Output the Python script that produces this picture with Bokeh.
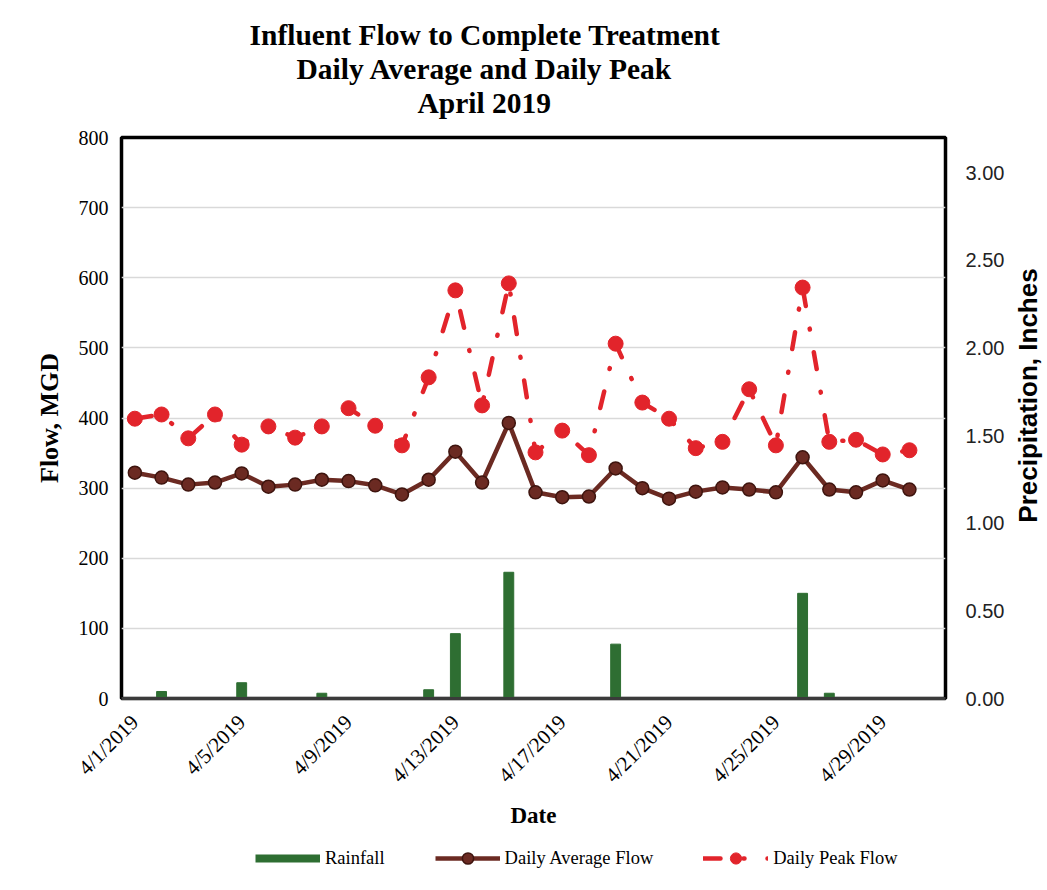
from math import pi
from bokeh.plotting import figure
from bokeh.layouts import column, row
from bokeh.models import (Range1d, LinearAxis, FixedTicker, Legend, LegendItem,
                          Title, Label, NumeralTickFormatter, ColumnDataSource)
from bokeh.embed import file_html
from bokeh.resources import INLINE

# ---------------- data ----------------
dates = ["4/1/2019", "4/2/2019", "4/3/2019", "4/4/2019", "4/5/2019", "4/6/2019",
         "4/7/2019", "4/8/2019", "4/9/2019", "4/10/2019", "4/11/2019", "4/12/2019",
         "4/13/2019", "4/14/2019", "4/15/2019", "4/16/2019", "4/17/2019", "4/18/2019",
         "4/19/2019", "4/20/2019", "4/21/2019", "4/22/2019", "4/23/2019", "4/24/2019",
         "4/25/2019", "4/26/2019", "4/27/2019", "4/28/2019", "4/29/2019", "4/30/2019"]
day_index = [1, 2, 3, 4, 5, 6, 7, 8, 9, 10, 11, 12, 13, 14, 15,
             16, 17, 18, 19, 20, 21, 22, 23, 24, 25, 26, 27, 28, 29, 30]
avg_flow = [322, 315, 305, 308, 321, 302, 305, 312, 310, 304, 291, 312, 352, 308, 393,
            294, 287, 288, 328, 300, 285, 295, 301, 298, 294, 344, 298, 294, 311, 298]
peak_flow = [399, 405, 371, 405, 362, 388, 372, 388, 414, 389, 361, 458, 582, 418, 592,
             351, 382, 347, 506, 422, 399, 357, 366, 441, 361, 586, 366, 369, 348, 354]
rainfall = [0.00, 0.04, 0.00, 0.00, 0.09, 0.00, 0.00, 0.03, 0.00, 0.00, 0.00, 0.05, 0.37, 0.00, 0.72,
            0.00, 0.00, 0.00, 0.31, 0.00, 0.00, 0.00, 0.00, 0.00, 0.00, 0.60, 0.03, 0.00, 0.00, 0.00]
x_tick_days = [1, 5, 9, 13, 17, 21, 25, 29]
flow_ticks = [0, 100, 200, 300, 400, 500, 600, 700, 800]
rain_ticks = [0.0, 0.5, 1.0, 1.5, 2.0, 2.5, 3.0]
title_lines = ["Influent Flow to Complete Treatment", "Daily Average and Daily Peak", "April 2019"]
# left offsets (px from plot-area left edge) that centre each title line on the chart
title_offsets = [128, 175, 296]
series_names = ["Rainfall", "Daily Average Flow", "Daily Peak Flow"]
right_title = "Precipitation, Inches"

GREEN = "#2E6E32"
BROWN = "#6B2A22"
BROWN_EDGE = "#3E140E"
RED = "#E2242B"
SERIF = "Liberation Serif"
SANS = "Liberation Sans"
PEAK_DASH = "17 23 1 23"

src = ColumnDataSource(dict(day=day_index, date=dates, avg=avg_flow,
                            peak=peak_flow, rain=rainfall))

# ---------------- main chart ----------------
p = figure(frame_width=824, frame_height=561,
           min_border_left=121, min_border_right=63, min_border_top=137, min_border_bottom=144,
           x_range=Range1d(0.5, 31.35), y_range=Range1d(0, 800),
           output_backend="svg", toolbar_location=None)
p.extra_y_ranges = {"rain": Range1d(0, 3.2)}

p.background_fill_color = "white"
p.border_fill_color = "white"
p.outline_line_color = "black"
p.outline_line_width = 3.5

p.xgrid.visible = False
p.ygrid.ticker = FixedTicker(ticks=flow_ticks)
p.ygrid.grid_line_color = "#D9D9D9"
p.ygrid.grid_line_width = 1.5

p.vbar(x="day", top="rain", bottom=0, width=0.37, y_range_name="rain",
       fill_color=GREEN, line_color=GREEN, source=src)
p.line("day", "avg", line_color=BROWN, line_width=4.5, source=src)
p.scatter("day", "avg", size=13, fill_color=BROWN, line_color=BROWN_EDGE,
          line_width=1.5, source=src)
p.line("day", "peak", line_color=RED, line_width=4.5, line_dash=PEAK_DASH,
       line_cap="round", source=src)
p.scatter("day", "peak", size=15, fill_color=RED, line_color=RED, source=src)

# x axis
xax = p.xaxis[0]
xax.ticker = FixedTicker(ticks=x_tick_days)
xax.major_label_overrides = {d: dates[d - 1] for d in x_tick_days}
xax.major_label_orientation = pi / 4
xax.major_label_text_font = SERIF
xax.major_label_text_font_size = "21px"
xax.major_label_text_color = "black"
xax.major_label_standoff = 20
xax.major_tick_out = 0
xax.major_tick_in = 0
xax.major_tick_line_color = None
xax.minor_tick_line_color = None
xax.axis_line_color = "#3A3A3A"
xax.axis_line_width = 3
xax.axis_label = "Date"
xax.axis_label_text_font = SERIF
xax.axis_label_text_font_style = "bold"
xax.axis_label_text_font_size = "23px"
xax.axis_label_text_color = "black"
xax.axis_label_standoff = 4

# left axis
yax = p.yaxis[0]
yax.ticker = FixedTicker(ticks=flow_ticks)
yax.major_label_text_font = SERIF
yax.major_label_text_font_size = "20px"
yax.major_label_text_color = "black"
yax.major_label_standoff = 13
yax.major_tick_out = 0
yax.major_tick_in = 0
yax.major_tick_line_color = None
yax.minor_tick_line_color = None
yax.axis_line_color = None
yax.axis_label = "Flow, MGD"
yax.axis_label_text_font = SERIF
yax.axis_label_text_font_style = "bold"
yax.axis_label_text_font_size = "26px"
yax.axis_label_text_color = "black"
yax.axis_label_standoff = 12

# right axis (precipitation)
rax = LinearAxis(y_range_name="rain", ticker=FixedTicker(ticks=rain_ticks),
                 formatter=NumeralTickFormatter(format="0.00"))
rax.major_label_text_font = SANS
rax.major_label_text_font_size = "20px"
rax.major_label_text_color = "#222222"
rax.major_label_standoff = 20
rax.major_tick_out = 0
rax.major_tick_in = 0
rax.major_tick_line_color = None
rax.minor_tick_line_color = None
rax.axis_line_color = None
p.add_layout(rax, "right")

# titles: spacer closest to the plot, then lines from bottom to top
p.add_layout(Title(text=" ", text_font_size="16px", standoff=0), "above")
for line, off in reversed(list(zip(title_lines, title_offsets))):
    p.add_layout(Title(text=line, align="left", offset=off, standoff=0,
                       text_font=SERIF, text_font_style="bold", text_font_size="29.5px",
                       text_color="black"), "above")

# ---------------- right-hand axis title (reads bottom-to-top) ----------------
# (this strip's plot area is aligned with the main plot area: 561 px high)
lab_fig = figure(width=39, height=842, min_border=0, x_range=Range1d(0, 1), y_range=Range1d(0, 1),
                 x_axis_location=None, y_axis_location=None,
                 output_backend="svg", toolbar_location=None)
lab_fig.outline_line_color = None
lab_fig.grid.visible = False
lab_fig.background_fill_color = "white"
lab_fig.border_fill_color = "white"
lab_fig.add_layout(Label(x=19, y=303, x_units="screen", y_units="screen",
                         text=right_title, angle=pi / 2,
                         text_align="center", text_baseline="middle",
                         text_font=SANS, text_font_style="bold", text_font_size="26px",
                         text_color="black"))

# ---------------- legend strip ----------------
# key renderers reuse the real data, which lies outside this strip's ranges
leg_fig = figure(width=1047, height=48, min_border=0, x_range=Range1d(0, 1), y_range=Range1d(-2, -1),
                 x_axis_location=None, y_axis_location=None,
                 output_backend="svg", toolbar_location=None)
leg_fig.outline_line_color = None
leg_fig.grid.visible = False
leg_fig.background_fill_color = "white"
leg_fig.border_fill_color = "white"
k_rain = leg_fig.line("day", "rain", line_color=GREEN, line_width=8, source=src)
k_avg_l = leg_fig.line("day", "avg", line_color=BROWN, line_width=4.5, source=src)
k_avg_p = leg_fig.scatter("day", "avg", size=13, fill_color=BROWN, line_color=BROWN_EDGE,
                          line_width=1.5, source=src)
k_peak_l = leg_fig.line("day", "peak", line_color=RED, line_width=4.5, line_dash=PEAK_DASH,
                        line_cap="round", source=src)
k_peak_p = leg_fig.scatter("day", "peak", size=15, fill_color=RED, line_color=RED, source=src)

legend = Legend(items=[
    LegendItem(label=series_names[0], renderers=[k_rain]),
    LegendItem(label=series_names[1], renderers=[k_avg_l, k_avg_p]),
    LegendItem(label=series_names[2], renderers=[k_peak_l, k_peak_p]),
], orientation="horizontal", location=(255, 18))
legend.glyph_width = 65
legend.glyph_height = 28
legend.label_standoff = 5
legend.spacing = 50
legend.padding = 0
legend.margin = 0
legend.border_line_color = None
legend.background_fill_alpha = 0
legend.label_text_font = SERIF
legend.label_text_font_size = "18.5px"
legend.label_text_color = "black"
leg_fig.add_layout(legend, "center")

layout = column(row(p, lab_fig), leg_fig)
open("out.html", "w").write(file_html(layout, INLINE))
